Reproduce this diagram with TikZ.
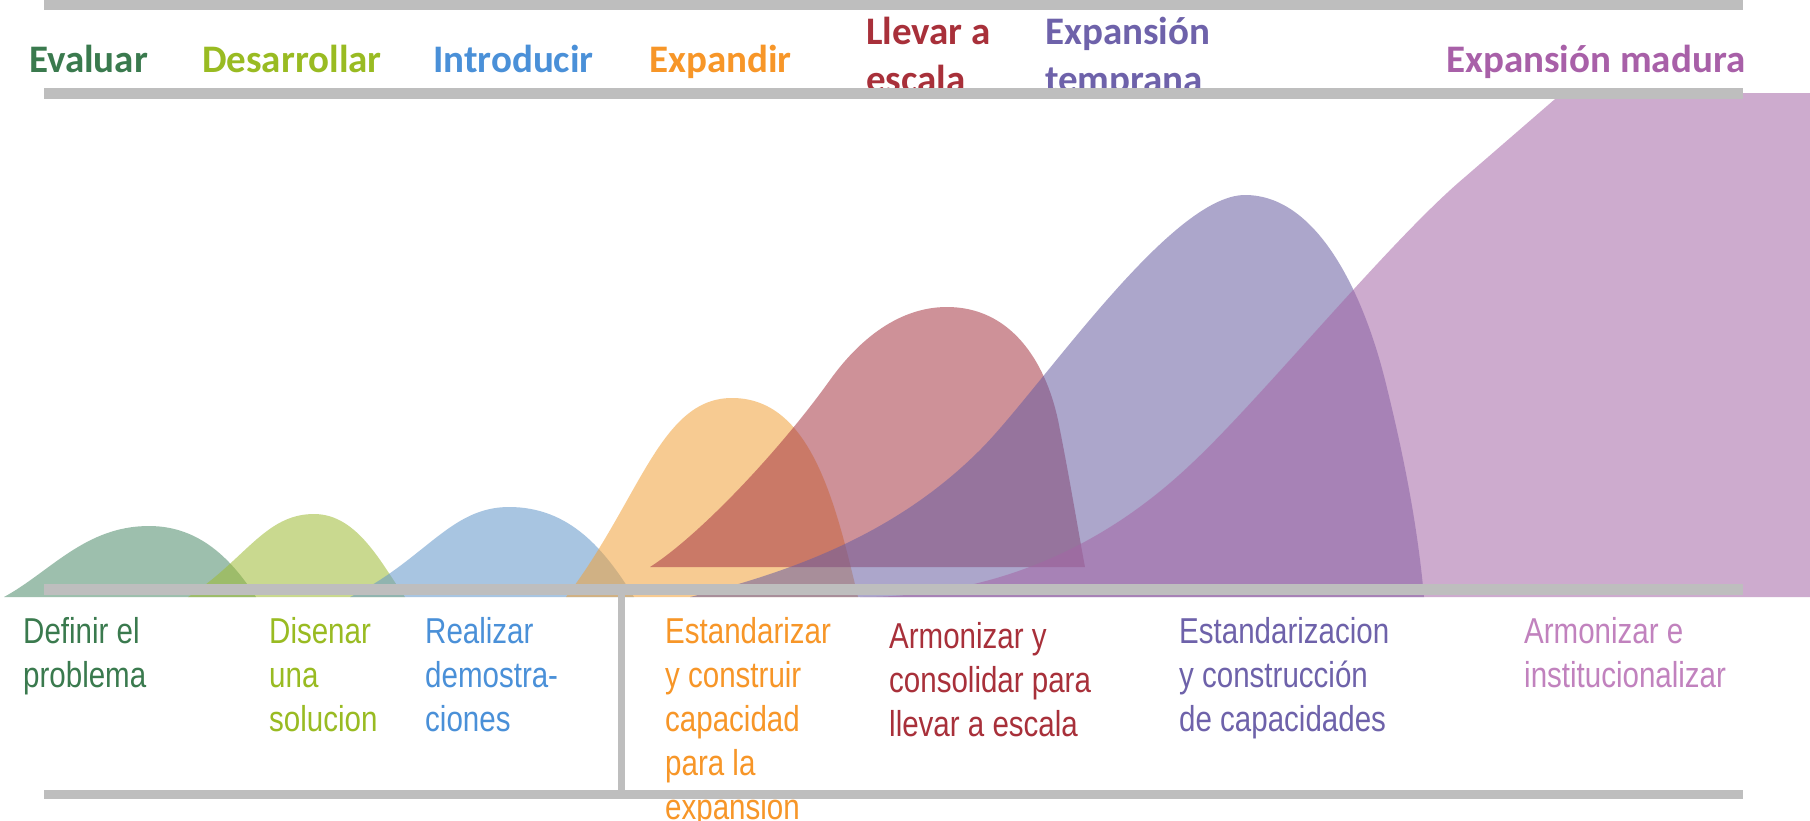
\documentclass[tikz,border=0pt]{standalone}
\usepackage{fontspec}
\newfontfamily\ttlfont{Carlito}
\newfontfamily\lblfont{Liberation Sans}[FakeStretch=0.82]
\definecolor{barc}{RGB}{190,190,190}
\definecolor{cgreen}{RGB}{77,139,106}
\definecolor{cyg}{RGB}{157,187,51}
\definecolor{cblue}{RGB}{98,150,202}
\definecolor{corange}{RGB}{242,162,57}
\definecolor{cred}{RGB}{166,55,68}
\definecolor{cbp}{RGB}{104,93,162}
\definecolor{clp}{RGB}{164,102,166}
\definecolor{tgreen}{RGB}{58,122,78}
\definecolor{tyg}{RGB}{153,187,34}
\definecolor{tblue}{RGB}{74,144,216}
\definecolor{torange}{RGB}{247,150,40}
\definecolor{tred}{RGB}{168,48,58}
\definecolor{tbp}{RGB}{110,98,170}
\definecolor{tlp}{RGB}{168,96,168}
\definecolor{tlp2}{RGB}{193,130,190}
\tikzset{
  bump/.style={fill=#1, fill opacity=0.55, draw=none},
  ttl/.style={font=\ttlfont\bfseries\fontsize{39}{48}\selectfont, anchor=base west, inner sep=0pt, align=left},
  lbl/.style={font=\lblfont\fontsize{36}{44}\selectfont, anchor=base west, inner sep=0pt, align=left},
  bar/.style={fill=barc, draw=none}
}
\begin{document}
\begin{tikzpicture}[x=1pt,y=-1pt]
\useasboundingbox (0,0) rectangle (1810,820);
\fill[white] (0,0) rectangle (1810,820);
% bumps
\path[bump=cgreen] (4,597) .. controls (50,572) and (85,526) .. (149,526) .. controls (200,526) and (232,560) .. (256,597) -- cycle;
\path[bump=cyg] (188,597) .. controls (245,560) and (265,514) .. (314,514) .. controls (358,514) and (382,565) .. (405,597) -- cycle;
\path[bump=cblue] (350,597) .. controls (425,560) and (450,507) .. (509,507) .. controls (570,507) and (605,550) .. (634,597) -- cycle;
\path[bump=corange] (566,597) .. controls (640,500) and (660,398) .. (732,398) .. controls (810,398) and (835,500) .. (858,597) -- cycle;
\path[bump=cred] (650,567) .. controls (700,535) and (780,450) .. (830,380) .. controls (855,345) and (895,307) .. (947,307) .. controls (1010,307) and (1045,360) .. (1058,420) .. controls (1070,480) and (1078,530) .. (1085,567) -- cycle;
\path[bump=cbp] (690,597) .. controls (800,570) and (900,530) .. (980,450) .. controls (1040,390) and (1170,195) .. (1245,195) .. controls (1320,195) and (1365,300) .. (1385,380) .. controls (1405,460) and (1418,530) .. (1424,597) -- cycle;
\path[bump=clp] (860,597) .. controls (990,597) and (1100,550) .. (1190,465) .. controls (1260,400) and (1390,240) .. (1465,177) -- (1562,93) -- (1810,93) -- (1810,597) -- cycle;
% titles
\node[ttl, text=tgreen] (t1) at (29,72) {Evaluar};
\node[ttl, text=tyg] (t2) at (202,72) {Desarrollar};
\node[ttl, text=tblue] (t3) at (433,72) {Introducir};
\node[ttl, text=torange] (t4) at (649,72) {Expandir};
\node[ttl, text=tred] (t5) at (866,92) {Llevar a\\escala};
\node[ttl, text=tbp] (t6) at (1045,92) {Expansión\\temprana};
\node[ttl, text=tlp] (t7) at (1446,72) {Expansión madura};
% labels
\node[lbl, text=tgreen] (l1) at (23,687) {Definir el\\problema};
\node[lbl, text=tyg] (l2) at (269,731) {Disenar\\una\\solucion};
\node[lbl, text=tblue] (l3) at (425,731) {Realizar\\demostra-\\ciones};
\node[lbl, text=torange] (l4) at (665,819) {Estandarizar\\y construir\\capacidad\\para la\\expansion};
\node[lbl, text=tred] (l5) at (889,736) {Armonizar y\\consolidar para\\llevar a escala};
\node[lbl, text=tbp] (l6) at (1179,731) {Estandarizacion\\y construcción\\de capacidades};
\node[lbl, text=tlp2] (l7) at (1524,687) {Armonizar e\\institucionalizar};
% bars
\path[bar] (44,0) rectangle (1743,10);
\path[bar] (44,88) rectangle (1743,99);
\path[bar] (44,584) rectangle (1743,595);
\path[bar] (618,595) rectangle (625,790);
\path[bar] (44,790) rectangle (1743,799);
\end{tikzpicture}
\end{document}
